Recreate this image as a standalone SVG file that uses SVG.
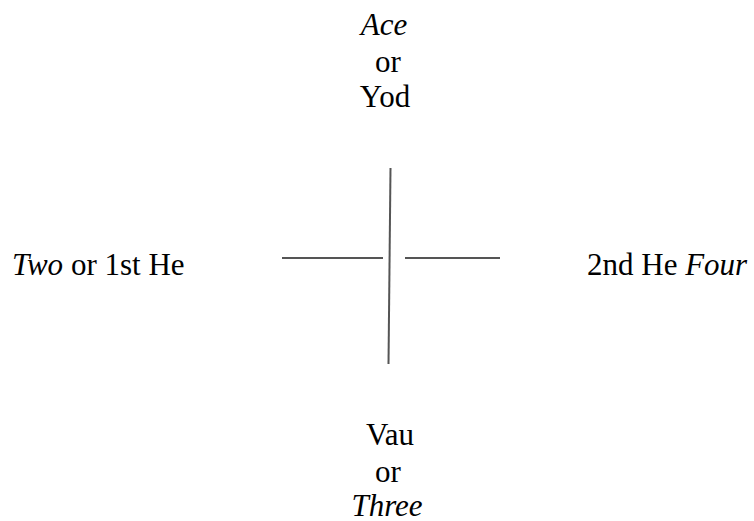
<svg xmlns="http://www.w3.org/2000/svg" width="754" height="521" viewBox="0 0 754 521">
<style>
text{font-size:31px;fill:#000;}
.c{text-anchor:middle;}
.i{font-style:italic;}
.ln{stroke:#555;stroke-width:2;fill:none;stroke-linecap:butt;}
</style>
<rect width="754" height="521" fill="#fff"/>
<g font-family="Times New Roman, Liberation Serif, serif">
<g id="top">
<text class="c i" x="384" y="35">Ace</text>
<text class="c" x="388" y="72">or</text>
<text class="c" x="385" y="107">Yod</text>
</g>
<g id="left">
<text x="12" y="275"><tspan class="i">Two</tspan> or 1st He</text>
</g>
<g id="right">
<text x="587" y="275">2nd He <tspan class="i">Four</tspan></text>
</g>
<g id="bottom">
<text class="c" x="390" y="445">Vau</text>
<text class="c" x="388" y="482">or</text>
<text class="c i" x="387" y="516">Three</text>
</g>
</g>
<g id="connectors">
<line class="ln" x1="390.5" y1="168" x2="388.5" y2="364"/>
<line class="ln" x1="282" y1="258" x2="383" y2="258"/>
<line class="ln" x1="405" y1="258" x2="500" y2="258"/>
</g>
</svg>
